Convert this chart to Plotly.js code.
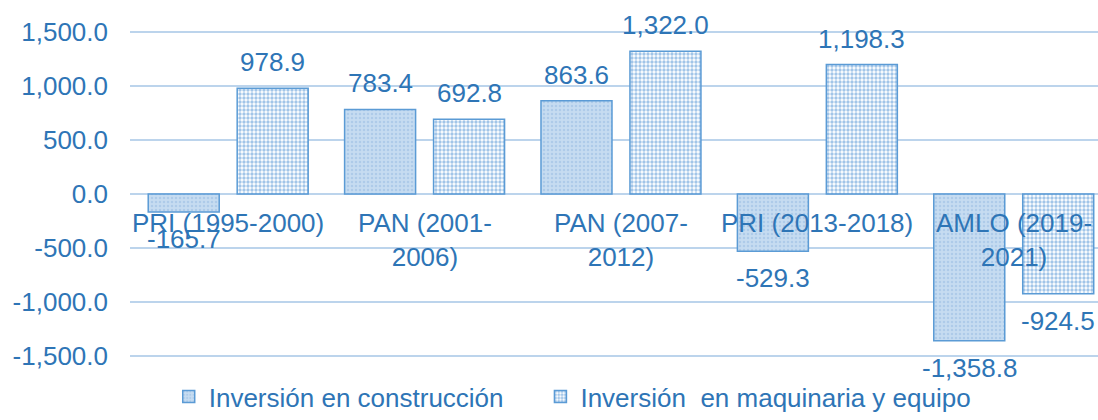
<!DOCTYPE html>
<html>
<head>
<meta charset="utf-8">
<script src="https://cdn.plot.ly/plotly-3.0.1.min.js"></script>
<style>html,body{margin:0;padding:0;background:#fff;}#chart{width:1098px;height:420px;}</style>
</head>
<body>
<div id="chart"></div>
<script>
const categories = ["PRI (1995-2000)", "PAN (2001-<br>2006)", "PAN (2007-<br>2012)", "PRI (2013-2018)", "AMLO (2019-<br>2021)"];
const construccion = [-165.7, 783.4, 863.6, -529.3, -1358.8];
const maquinaria = [978.9, 692.8, 1322.0, 1198.3, -924.5];
const seriesNames = ["Inversión en construcción", "Inversión  en maquinaria y equipo"];
const yTicks = [-1500, -1000, -500, 0, 500, 1000, 1500];

const fmt = v => v.toLocaleString('en-US', {minimumFractionDigits: 1, maximumFractionDigits: 1});
const yTickText = yTicks.map(fmt);

const txt = '#2e75b6';
const fontFam = '"Liberation Sans", Arial, Helvetica, sans-serif';
const fs = 26;
const bargap = 0.094;
const catIdx = categories.map((c, i) => i);
const barOffset = (1 - bargap) / 4;

const traces = [
  {
    type: 'bar', name: seriesNames[0], x: catIdx, y: construccion, legend: 'legend',
    marker: {color: '#c3daf0', line: {color: '#5b9bd5', width: 1.5},
      pattern: {shape: '.', fgcolor: '#aecbe9', bgcolor: '#c6dcf1', size: 4, solidity: 0.3}},
    hoverinfo: 'skip'
  },
  {
    type: 'bar', name: seriesNames[1], x: catIdx, y: maquinaria, legend: 'legend2',
    marker: {color: '#ffffff', line: {color: '#5b9bd5', width: 1.5},
      pattern: {shape: '.', fgcolor: '#a2c5e8', bgcolor: '#ffffff', size: 4, solidity: 0.55}},
    hoverinfo: 'skip'
  }
];

const valueLabel = (v, xPos) => ({
  x: xPos, y: v, xref: 'x', yref: 'y', text: fmt(v), showarrow: false,
  yanchor: v >= 0 ? 'bottom' : 'top', yshift: v >= 0 ? 9 : -10,
  font: {color: txt, size: fs, family: fontFam}
});

const annotations = [
  ...categories.map((c, i) => ({
    x: i, y: 0, xref: 'x', yref: 'y', text: c, showarrow: false,
    yanchor: 'top', yshift: -12,
    font: {color: txt, size: fs, family: fontFam}
  })),
  ...construccion.map((v, i) => valueLabel(v, i - barOffset)),
  ...maquinaria.map((v, i) => valueLabel(v, i + barOffset))
];

const legendBase = {
  orientation: 'h', xanchor: 'left', yref: 'container', y: 0.0, yanchor: 'bottom',
  font: {color: txt, size: fs, family: fontFam}, bgcolor: 'rgba(0,0,0,0)'
};

const layout = {
  width: 1098, height: 420,
  margin: {l: 130, r: 0, t: 0, b: 40, autoexpand: false},
  paper_bgcolor: '#fff', plot_bgcolor: '#fff',
  font: {family: fontFam, color: txt, size: fs},
  barmode: 'group', bargap: bargap, bargroupgap: 0.202,
  xaxis: {
    type: 'linear', range: [-0.5, 4.429], showticklabels: false,
    showgrid: false, zeroline: false, showline: false, ticks: ''
  },
  yaxis: {
    range: [-1722, 1796], tickvals: yTicks, ticktext: yTickText,
    showgrid: true, gridcolor: '#bcd4ec', gridwidth: 1.5,
    zeroline: true, zerolinecolor: '#bcd4ec', zerolinewidth: 1.5,
    showline: false, ticks: '', ticklabelstandoff: 21,
    tickfont: {color: txt, size: fs, family: fontFam}
  },
  showlegend: true,
  legend: Object.assign({}, legendBase, {x: 0.04}),
  legend2: Object.assign({}, legendBase, {x: 0.424}),
  annotations: annotations
};

Plotly.newPlot('chart', traces, layout, {staticPlot: true, displayModeBar: false});
</script>
</body>
</html>
